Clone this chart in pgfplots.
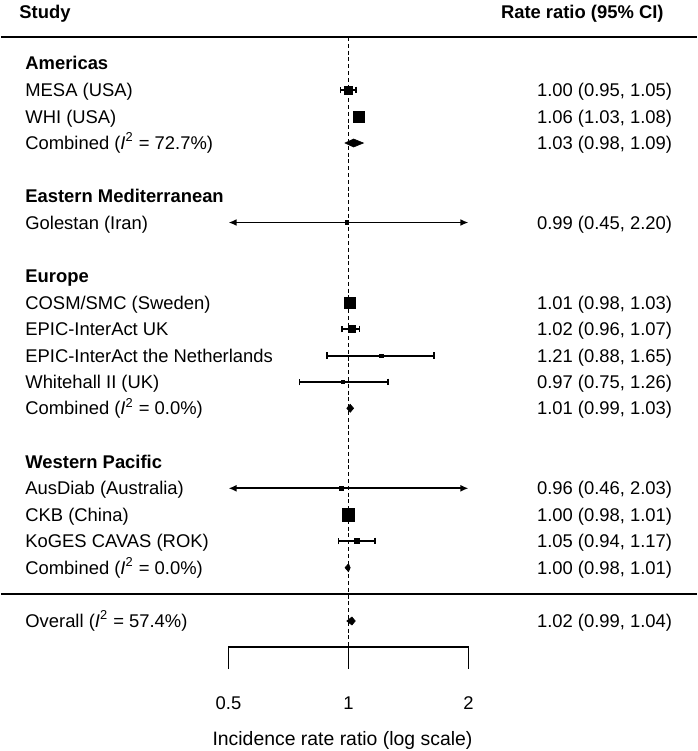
\documentclass[border=0pt]{standalone}
\usepackage{pgfplots}
\pgfplotsset{compat=1.18}
\usetikzlibrary{arrows.meta}
\usepackage{fontspec}
\setmainfont{Liberation Sans}
\newcommand\fs{\fontsize{9.2}{11}\selectfont}
\newcommand\fx{\fontsize{9.7}{11.5}\selectfont}
\newcommand\Isq{(\textit{I}\textsuperscript{2}}
\tikzset{
  lab/.style={inner sep=0pt, text height=6.6pt, text depth=0pt, font=\fs},
  ci/.style={line width=0.85pt, arrows={Bar[width=3.4pt,line width=0.85pt]-Bar[width=3.4pt,line width=0.85pt]}},
  cia/.style={line width=0.85pt, arrows={Latex[length=4pt,width=3.4pt]-Latex[length=4pt,width=3.4pt]}},
  dia/.style={fill=black, draw=black, line width=0.3pt},
}
\pgfplotsset{
  est/.style={only marks, mark=square*, mark options={fill=black, draw=black, line width=0pt}},
}
\begin{document}
\begin{tikzpicture}
\begin{axis}[
  width=348pt, height=375.5pt, scale only axis,
  xmode=log, log basis x=2,
  xmin=0.13436, xmax=7.4856,
  ymin=0, ymax=751, y dir=reverse,
  hide axis, clip=false,
]
\path (rel axis cs:0,0) rectangle (rel axis cs:1,1);

% separators
\addplot[line width=1pt, black] coordinates {(0.13436,36.5) (7.4856,36.5)};
\addplot[line width=1pt, black] coordinates {(0.13436,594.3) (7.4856,594.3)};
% null line
\addplot[line width=0.9pt, black, dash pattern=on 2pt off 1.4pt] coordinates {(1,37) (1,647)};

% confidence intervals
\addplot[ci] coordinates {(0.95,90) (1.05,90)};
\addplot[ci] coordinates {(1.03,116.5) (1.08,116.5)};
\addplot[cia] coordinates {(0.5,222.5) (2,222.5)};
\addplot[ci] coordinates {(0.98,302.5) (1.03,302.5)};
\addplot[ci] coordinates {(0.96,329) (1.07,329)};
\addplot[ci] coordinates {(0.88,355.7) (1.65,355.7)};
\addplot[ci] coordinates {(0.75,382) (1.26,382)};
\addplot[cia] coordinates {(0.5,488.3) (2,488.3)};
\addplot[ci] coordinates {(0.98,515) (1.01,515)};
\addplot[ci] coordinates {(0.94,541) (1.17,541)};

% point estimates (square size ~ weight)
\addplot[est, mark size=2pt] coordinates {(1.00,90)};
\addplot[est, mark size=2.75pt] coordinates {(1.06,116.5)};
\addplot[est, mark size=0.8pt] coordinates {(0.99,222.5)};
\addplot[est, mark size=2.75pt] coordinates {(1.01,302.5)};
\addplot[est, mark size=1.8pt] coordinates {(1.02,329)};
\addplot[est, mark size=0.85pt] coordinates {(1.21,355.7)};
\addplot[est, mark size=0.85pt] coordinates {(0.97,382)};
\addplot[est, mark size=0.9pt] coordinates {(0.96,488.3)};
\addplot[est, mark size=3.15pt] coordinates {(1.00,515)};
\addplot[est, mark size=1.25pt] coordinates {(1.05,541)};

% pooled estimates (diamonds)
\addplot[dia] coordinates {(0.98,143) (1.03,139) (1.09,143) (1.03,147)} -- cycle;
\addplot[dia] coordinates {(0.99,408.3) (1.01,404.3) (1.03,408.3) (1.01,412.3)} -- cycle;
\addplot[dia] coordinates {(0.98,567.7) (1.00,563.7) (1.01,567.7) (1.00,571.7)} -- cycle;
\addplot[dia] coordinates {(0.99,621) (1.02,617) (1.04,621) (1.02,625)} -- cycle;

% x axis bracket
\addplot[line width=0.8pt, black] coordinates {(0.5,669) (0.5,647) (2,647) (2,669)};
\addplot[line width=0.8pt, black] coordinates {(1,647) (1,669)};

% header
\node[lab, anchor=west, font=\fs\bfseries] at (rel axis cs:18/696,1-12/751) {Study};
\node[lab, anchor=east, font=\fs\bfseries] at (rel axis cs:663/696,1-12/751) {Rate ratio (95\% CI)};

% left labels
\node[lab, anchor=west, font=\fs\bfseries] at (rel axis cs:24/696,1-63/751) {Americas};
\node[lab, anchor=west] at (rel axis cs:24/696,1-90/751) {MESA (USA)};
\node[lab, anchor=west] at (rel axis cs:24/696,1-116.5/751) {WHI (USA)};
\node[lab, anchor=west] at (rel axis cs:24/696,1-143/751) {Combined \Isq{} = 72.7\%)};
\node[lab, anchor=west, font=\fs\bfseries] at (rel axis cs:24/696,1-196/751) {Eastern Mediterranean};
\node[lab, anchor=west] at (rel axis cs:24/696,1-222.5/751) {Golestan (Iran)};
\node[lab, anchor=west, font=\fs\bfseries] at (rel axis cs:24/696,1-276/751) {Europe};
\node[lab, anchor=west] at (rel axis cs:24/696,1-302.5/751) {COSM/SMC (Sweden)};
\node[lab, anchor=west] at (rel axis cs:24/696,1-329/751) {EPIC-InterAct UK};
\node[lab, anchor=west] at (rel axis cs:24/696,1-355.7/751) {EPIC-InterAct the Netherlands};
\node[lab, anchor=west] at (rel axis cs:24/696,1-382/751) {Whitehall II (UK)};
\node[lab, anchor=west] at (rel axis cs:24/696,1-408.3/751) {Combined \Isq{} = 0.0\%)};
\node[lab, anchor=west, font=\fs\bfseries] at (rel axis cs:24/696,1-461.5/751) {Western Pacific};
\node[lab, anchor=west] at (rel axis cs:24/696,1-488.3/751) {AusDiab (Australia)};
\node[lab, anchor=west] at (rel axis cs:24/696,1-515/751) {CKB (China)};
\node[lab, anchor=west] at (rel axis cs:24/696,1-541/751) {KoGES CAVAS (ROK)};
\node[lab, anchor=west] at (rel axis cs:24/696,1-567.7/751) {Combined \Isq{} = 0.0\%)};
\node[lab, anchor=west] at (rel axis cs:24/696,1-621/751) {Overall \Isq{} = 57.4\%)};

% right column
\node[lab, anchor=east] at (rel axis cs:671.5/696,1-90/751) {1.00 (0.95, 1.05)};
\node[lab, anchor=east] at (rel axis cs:671.5/696,1-116.5/751) {1.06 (1.03, 1.08)};
\node[lab, anchor=east] at (rel axis cs:671.5/696,1-143/751) {1.03 (0.98, 1.09)};
\node[lab, anchor=east] at (rel axis cs:671.5/696,1-222.5/751) {0.99 (0.45, 2.20)};
\node[lab, anchor=east] at (rel axis cs:671.5/696,1-302.5/751) {1.01 (0.98, 1.03)};
\node[lab, anchor=east] at (rel axis cs:671.5/696,1-329/751) {1.02 (0.96, 1.07)};
\node[lab, anchor=east] at (rel axis cs:671.5/696,1-355.7/751) {1.21 (0.88, 1.65)};
\node[lab, anchor=east] at (rel axis cs:671.5/696,1-382/751) {0.97 (0.75, 1.26)};
\node[lab, anchor=east] at (rel axis cs:671.5/696,1-408.3/751) {1.01 (0.99, 1.03)};
\node[lab, anchor=east] at (rel axis cs:671.5/696,1-488.3/751) {0.96 (0.46, 2.03)};
\node[lab, anchor=east] at (rel axis cs:671.5/696,1-515/751) {1.00 (0.98, 1.01)};
\node[lab, anchor=east] at (rel axis cs:671.5/696,1-541/751) {1.05 (0.94, 1.17)};
\node[lab, anchor=east] at (rel axis cs:671.5/696,1-567.7/751) {1.00 (0.98, 1.01)};
\node[lab, anchor=east] at (rel axis cs:671.5/696,1-621/751) {1.02 (0.99, 1.04)};

% tick labels and axis title
\node[lab] at (axis cs:0.5,703) {0.5};
\node[lab] at (axis cs:1,703) {1};
\node[lab] at (axis cs:2,703) {2};
\node[inner sep=0pt, text height=6.95pt, text depth=0pt, font=\fx] at (rel axis cs:341.5/696,1-739/751) {Incidence rate ratio (log scale)};
\end{axis}
\end{tikzpicture}
\end{document}
